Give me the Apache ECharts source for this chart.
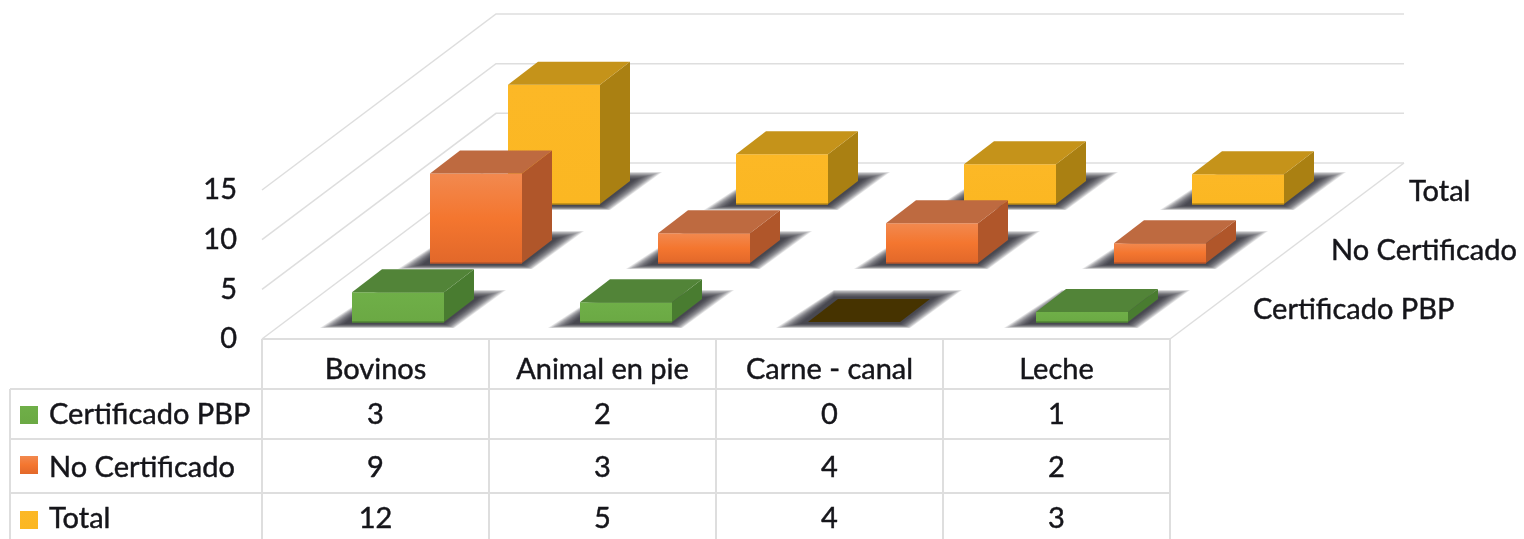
<!DOCTYPE html>
<html><head><meta charset="utf-8">
<style>html,body{margin:0;padding:0;background:#fff}#c{width:1524px;height:539px}</style>
<script src="https://cdn.jsdelivr.net/npm/echarts@6/dist/echarts.min.js"></script>
</head><body><div id="c"></div>
<script>
const categories = ['Bovinos', 'Animal en pie', 'Carne - canal', 'Leche'];
const seriesNames = ['Certificado PBP', 'No Certificado', 'Total'];
const certificado = [3, 2, 0, 1];
const noCertificado = [9, 3, 4, 2];
const total = [12, 5, 4, 3];
const yTicks = [0, 5, 10, 15];
const rowsData = [certificado, noCertificado, total];

const FONT = 'Lato';
const FS = 29;
const TXT = '#15151a';
const LINE = '#dedede';
const DX = 30, DY = -23;               // bar depth
const WALL_DX = 234, WALL_DY = -176;   // floor depth
const ROW_STEP_X = 78;
const BASES = [322, 263, 204];
const TABLE_Y = [389, 439, 493, 539];
const TABLE_TXT_Y = [415, 468, 519];
const SWATCH_Y = [406, 456, 511];
const TXT_STYLE = { fill: TXT, stroke: TXT, lineWidth: 0.45, font: FS + 'px ' + FONT, verticalAlign: 'middle' };

const palette = [
  { front: ['#6FAF48', '#6BA944'], top: '#528438', side: '#497C30', edge: '#4f8433', zero: '#463300' },
  { front: ['#F2894F', '#F4762F', '#E2682A'], top: '#BE6A40', side: '#B0562A', edge: '#b8552a', zero: '#463300' },
  { front: ['#FCB826', '#FBB722'], top: '#C5931A', side: '#AA8012', edge: '#b98a15', zero: '#463300' }
];

function grad(stops) {
  return new echarts.graphic.LinearGradient(0, 0, 0, 1,
    stops.map((c, i) => ({ offset: i / (stops.length - 1), color: c })));
}

function barRender(row) {
  return function (params, api) {
    const i = api.value(0), v = api.value(1);
    const p0 = api.coord([i, 0]), p1 = api.coord([i, v]);
    const band = api.size([1, 0])[0];
    const w = 92;
    const x = p0[0] - w / 2, b = p0[1], t = p1[1];
    const c = palette[row];
    const kids = [];
    // soft floor shadow: stacked translucent parallelograms, outer to inner
    const outer = [[x - 32, b + 6], [x + w + 10, b + 6], [x + w + 62, b - 32], [x + 26, b - 32]];
    const inner = [[x - 8, b + 2], [x + w, b + 2], [x + w + 36, b - 25], [x + 26, b - 25]];
    const LAYERS = 14;
    for (let k = 0; k < LAYERS; k++) {
      const f = k / (LAYERS - 1);
      kids.push({
        type: 'polygon',
        shape: { points: outer.map((o, n) => [o[0] + (inner[n][0] - o[0]) * f, o[1] + (inner[n][1] - o[1]) * f]) },
        style: { fill: 'rgba(38,38,46,0.115)' }
      });
    }
    if (v > 0) {
      kids.push({
        type: 'polygon',
        shape: { points: [[x + w, b], [x + w, t], [x + w + DX, t + DY], [x + w + DX, b + DY]] },
        style: { fill: c.side }
      });
      kids.push({
        type: 'rect',
        shape: { x: x, y: t, width: w, height: b - t },
        style: { fill: grad(c.front) }
      });
      kids.push({
        type: 'line',
        shape: { x1: x, y1: b, x2: x + w, y2: b },
        style: { stroke: c.edge, lineWidth: 1.5 }
      });
    }
    kids.push({
      type: 'polygon',
      shape: { points: [[x, t], [x + w, t], [x + w + DX, t + DY], [x + DX, t + DY]] },
      style: { fill: v > 0 ? c.top : c.zero }
    });
    if (i === categories.length - 1) {
      kids.push({
        type: 'text',
        style: Object.assign({ text: seriesNames[row], x: p0[0] + band / 2 + 57, y: b - 12, align: 'left' }, TXT_STYLE)
      });
    }
    return { type: 'group', children: kids };
  };
}

function wallRender(params, api) {
  const v = api.value(0);
  const left = api.coord([0, v]), band = api.size([1, 0])[0];
  const x0 = left[0] - band / 2, y = left[1];
  const x1 = x0 + band * categories.length;
  const st = { stroke: LINE, lineWidth: 1.5, fill: 'none' };
  const kids = [{
    type: 'polyline',
    shape: { points: [[x0, y], [x0 + WALL_DX, y + WALL_DY], [x1 + WALL_DX, y + WALL_DY]] },
    style: st
  }];
  if (v === 0) kids.push({ type: 'line', shape: { x1: x1, y1: y, x2: x1 + WALL_DX, y2: y + WALL_DY }, style: st });
  return { type: 'group', children: kids };
}

function tableRender(params, api) {
  const i = api.value(0);
  const c = api.coord([i, 0]), band = api.size([1, 0])[0];
  const xl = c[0] - band / 2, xr = c[0] + band / 2;
  const st = { stroke: LINE, lineWidth: 2 };
  const kids = [
    { type: 'line', shape: { x1: xl, y1: c[1], x2: xr, y2: c[1] }, style: st },
    { type: 'line', shape: { x1: xr, y1: c[1], x2: xr, y2: 539 }, style: st }
  ];
  TABLE_Y.slice(0, 3).forEach(y => kids.push({ type: 'line', shape: { x1: xl, y1: y, x2: xr, y2: y }, style: st }));
  rowsData.forEach((arr, r) => kids.push({
    type: 'text',
    style: Object.assign({ text: String(arr[i]), x: c[0], y: TABLE_TXT_Y[r], align: 'center' }, TXT_STYLE)
  }));
  if (i === 0) {
    kids.push({ type: 'line', shape: { x1: xl, y1: c[1], x2: xl, y2: 539 }, style: st });
    kids.push({ type: 'line', shape: { x1: 10, y1: TABLE_Y[0], x2: 10, y2: 539 }, style: st });
    TABLE_Y.slice(0, 3).forEach(y => kids.push({ type: 'line', shape: { x1: 10, y1: y, x2: xl, y2: y }, style: st }));
    seriesNames.forEach((n, r) => {
      kids.push({ type: 'rect', shape: { x: 20, y: SWATCH_Y[r], width: 18, height: 18 }, style: { fill: grad(palette[r].front) } });
      kids.push({ type: 'text', style: Object.assign({ text: n, x: 49, y: TABLE_TXT_Y[r], align: 'left' }, TXT_STYLE) });
    });
  }
  return { type: 'group', children: kids };
}

const grids = [{ left: 262, width: 908, top: 190, height: 149 }];
const xAxes = [{
  type: 'category', gridIndex: 0, data: categories,
  axisLine: { show: false }, axisTick: { show: false },
  axisLabel: { interval: 0, margin: 16, color: TXT, fontFamily: FONT, fontSize: FS, textBorderColor: TXT, textBorderWidth: 0.45 }
}];
const yAxes = [{
  type: 'value', gridIndex: 0, min: 0, max: 15, interval: 5,
  axisLine: { show: false }, axisTick: { show: false }, splitLine: { show: false },
  axisLabel: { margin: 25, color: TXT, fontFamily: FONT, fontSize: FS, padding: [3, 0, 0, 0], textBorderColor: TXT, textBorderWidth: 0.45 }
}];
const series = [
  { type: 'custom', xAxisIndex: 0, yAxisIndex: 0, z: 1, silent: true, renderItem: wallRender,
    data: yTicks.map(v => [v]), encode: { y: 0 } },
  { type: 'custom', xAxisIndex: 0, yAxisIndex: 0, z: 1, silent: true, renderItem: tableRender,
    data: categories.map((c, i) => [i, 0]), encode: { x: 0, y: 1 } }
];
[2, 1, 0].forEach(r => {
  const g = grids.length;
  grids.push({ left: 284 + ROW_STEP_X * r, width: 912, top: BASES[r] - 149, height: 149 });
  xAxes.push({ type: 'category', gridIndex: g, data: categories, show: false });
  yAxes.push({ type: 'value', gridIndex: g, min: 0, max: 15, show: false });
  series.push({
    type: 'custom', name: seriesNames[r], xAxisIndex: g, yAxisIndex: g, z: 5 - r, silent: true,
    renderItem: barRender(r),
    data: rowsData[r].map((v, i) => [i, v]), encode: { x: 0, y: 1 }
  });
});

const chart = echarts.init(document.getElementById('c'), null, { renderer: 'canvas' });
chart.setOption({ animation: false, backgroundColor: '#fff', grid: grids, xAxis: xAxes, yAxis: yAxes, series: series });
</script></body></html>
